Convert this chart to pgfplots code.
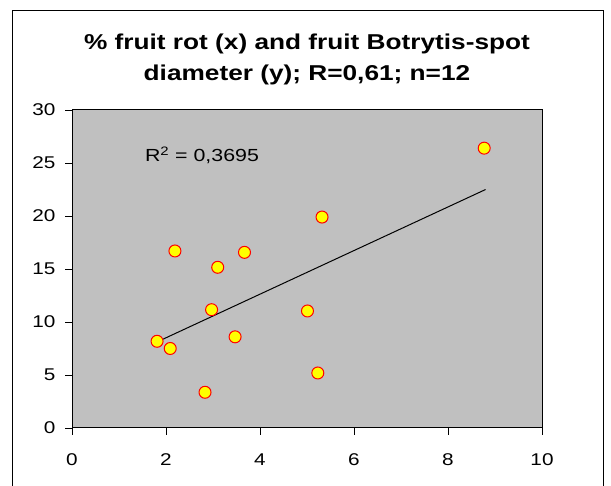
\documentclass[border=0pt]{standalone}
\usepackage{pgfplots}
\pgfplotsset{compat=1.18}
\usepackage{fontspec}
\setmainfont{Liberation Sans}[FakeStretch=1.22]
\definecolor{plotgray}{HTML}{C0C0C0}
\definecolor{dotred}{HTML}{FF0000}
\definecolor{dotyellow}{HTML}{FFFF00}

\begin{document}
\begin{tikzpicture}[x=1pt,y=1pt]
\useasboundingbox (0,0) rectangle (611,486);
% chart frame
\draw[black, line width=1pt] (12,-20) rectangle (603,475);
% title
\node[anchor=base, font=\fontsize{21.5}{24}\selectfont\bfseries, inner sep=0]
  at (307,436) {\% fruit rot (x) and fruit Botrytis-spot};
\node[anchor=base, font=\fontsize{21.5}{24}\selectfont\bfseries, inner sep=0]
  at (307,405) {diameter (y); R=0,61; n=12};

\begin{axis}[
  at={(72pt,58pt)}, anchor=south west,
  width=470pt, height=318pt, scale only axis,
  xmin=0, xmax=10, ymin=0, ymax=30,
  xtick={0,2,...,10}, ytick={0,5,...,30},
  axis background/.style={fill=plotgray},
  axis line style={black, line width=1pt},
  tick align=outside, tick style={black, line width=0.8pt},
  major tick length=7pt,
  xtick pos=bottom, ytick pos=left,
  ticklabel style={font=\fontsize{17}{20}\selectfont},
  /pgf/number format/assume math mode=true,
  xticklabel style={yshift=-15pt},
  yticklabel style={xshift=-6pt},
  clip=false,
]
% data points
\addplot[only marks, mark=*, mark size=6pt,
  mark options={fill=dotyellow, draw=dotred, line width=1pt}]
  coordinates {
    (2.19,16.70) (3.10,15.16) (3.67,16.57) (5.32,19.90)
    (8.77,26.40) (1.81,8.18) (2.09,7.50) (2.97,11.16)
    (3.47,8.60) (5.01,11.04) (5.23,5.19) (2.83,3.37)
  };
% linear trendline
\addplot[black, line width=1pt] coordinates {(1.82,8.14) (8.80,22.50)};
\node[anchor=base west, inner sep=0, font=\fontsize{17.5}{20}\selectfont]
  at (axis cs:1.55,25.12) {R\textsuperscript{2} = 0,3695};
\end{axis}
\end{tikzpicture}
\end{document}
